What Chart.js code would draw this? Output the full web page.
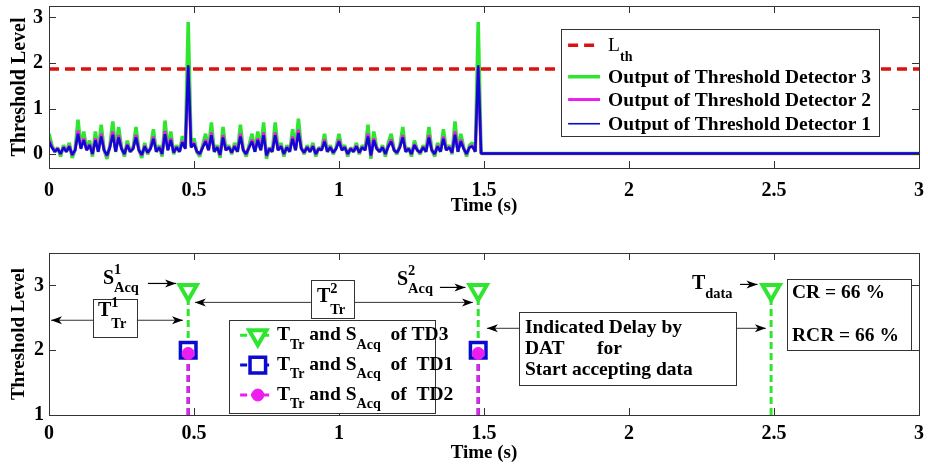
<!DOCTYPE html>
<html>
<head>
<meta charset="utf-8">
<script src="https://cdn.jsdelivr.net/npm/chart.js@4.4.1/dist/chart.umd.min.js"></script>
<style>
  html, body { margin: 0; padding: 0; background: #fff; }
  #wrap { position: relative; width: 928px; height: 471px; overflow: hidden; }
  canvas { position: absolute; left: 0; }
  #topChart { top: 0; }
  #bottomChart { top: 240px; }
</style>
</head>
<body>
<div id="wrap">
  <canvas id="topChart" width="928" height="235"></canvas>
  <canvas id="bottomChart" width="928" height="231"></canvas>
</div>
<script>
// ---- data ----
const sampleStep = 0.01;          // s between samples of the detector outputs
const endTime = 3;
const idleLevel = 0.02;           // flat output once data is accepted
const thresholdLevel = 1.87;      // L_th
const timeTicks = [0, 0.5, 1, 1.5, 2, 2.5, 3];
const topLevelTicks = [0, 1, 2, 3];
const bottomLevelTicks = [1, 2, 3];

const td3Out = [
  0.45, 0.2, 0.05, 0.15, -0.05, 0.2, 0.05, 0.25, -0.08, 0.1,
  0.76, 0.15, 0.5, 0.1, 0.3, -0.05, 0.5, 0.05, 0.65, 0.1,
  -0.1, 0.2, 0.72, 0.05, 0.6, 0.15, -0.05, 0.3, 0.05, 0.15,
  0.6, 0.1, -0.08, 0.25, 0.0, 0.15, 0.55, 0.05, 0.2, -0.05,
  0.74, 0.1, 0.5, 0.0, 0.2, 0.05, 0.4, 0.15, 2.9, 0.2,
  0.35, 0.05, -0.05, 0.2, 0.45, 0.1, 0.7, 0.05, 0.2, -0.08,
  0.6, 0.1, 0.2, 0.0, 0.25, 0.05, 0.65, 0.1, -0.05, 0.2,
  0.45, 0.05, 0.5, 0.1, 0.7, -0.1, 0.15, 0.05, 0.7, 0.1,
  0.25, -0.05, 0.2, 0.05, 0.55, 0.1, 0.78, 0.15, 0.0, 0.2,
  0.05, 0.25, -0.05, 0.15, 0.1, 0.45, 0.05, 0.2, 0.0, 0.15,
  0.45, 0.1, 0.2, -0.05, 0.15, 0.05, 0.25, 0.0, 0.2, 0.1,
  0.65, -0.1, 0.5, 0.15, 0.05, 0.2, -0.05, 0.25, 0.45, 0.1,
  0.0, 0.2, 0.6, 0.05, 0.15, -0.05, 0.3, 0.1, 0.0, 0.2,
  0.05, 0.6, 0.1, -0.05, 0.25, 0.05, 0.55, 0.1, 0.2, 0.0,
  0.72, 0.05, 0.45, 0.15, -0.05, 0.2, 0.25, 0.05, 2.9, 0.02
];
const td2Out = [
  0.32, 0.16, 0.06, 0.13, 0.0, 0.16, 0.06, 0.19, -0.02, 0.09,
  0.52, 0.13, 0.35, 0.09, 0.22, 0.0, 0.35, 0.06, 0.45, 0.09,
  -0.04, 0.16, 0.5, 0.06, 0.42, 0.13, 0.0, 0.22, 0.06, 0.13,
  0.42, 0.09, -0.02, 0.19, 0.03, 0.13, 0.39, 0.06, 0.16, 0.0,
  0.51, 0.09, 0.35, 0.03, 0.16, 0.06, 0.29, 0.13, 1.9, 0.16,
  0.25, 0.06, 0.0, 0.16, 0.32, 0.09, 0.48, 0.06, 0.16, -0.02,
  0.42, 0.09, 0.16, 0.03, 0.19, 0.06, 0.45, 0.09, 0.0, 0.16,
  0.32, 0.06, 0.35, 0.09, 0.48, -0.04, 0.13, 0.06, 0.48, 0.09,
  0.19, 0.0, 0.16, 0.06, 0.39, 0.09, 0.54, 0.13, 0.03, 0.16,
  0.06, 0.19, 0.0, 0.13, 0.09, 0.32, 0.06, 0.16, 0.03, 0.13,
  0.32, 0.09, 0.16, 0.0, 0.13, 0.06, 0.19, 0.03, 0.16, 0.09,
  0.45, -0.04, 0.35, 0.13, 0.06, 0.16, 0.0, 0.19, 0.32, 0.09,
  0.03, 0.16, 0.42, 0.06, 0.13, 0.0, 0.22, 0.09, 0.03, 0.16,
  0.06, 0.42, 0.09, 0.0, 0.19, 0.06, 0.39, 0.09, 0.16, 0.03,
  0.5, 0.06, 0.32, 0.13, 0.0, 0.16, 0.19, 0.06, 1.9, 0.02
];
const td1Out = [
  0.28, 0.15, 0.06, 0.12, 0.01, 0.15, 0.06, 0.17, -0.01, 0.09,
  0.45, 0.12, 0.31, 0.09, 0.2, 0.01, 0.31, 0.06, 0.39, 0.09,
  -0.02, 0.15, 0.43, 0.06, 0.37, 0.12, 0.01, 0.2, 0.06, 0.12,
  0.37, 0.09, -0.01, 0.17, 0.04, 0.12, 0.34, 0.06, 0.15, 0.01,
  0.44, 0.09, 0.31, 0.04, 0.15, 0.06, 0.26, 0.12, 1.95, 0.15,
  0.23, 0.06, 0.01, 0.15, 0.28, 0.09, 0.42, 0.06, 0.15, -0.01,
  0.37, 0.09, 0.15, 0.04, 0.17, 0.06, 0.39, 0.09, 0.01, 0.15,
  0.28, 0.06, 0.31, 0.09, 0.42, -0.02, 0.12, 0.06, 0.42, 0.09,
  0.17, 0.01, 0.15, 0.06, 0.34, 0.09, 0.47, 0.12, 0.04, 0.15,
  0.06, 0.17, 0.01, 0.12, 0.09, 0.28, 0.06, 0.15, 0.04, 0.12,
  0.28, 0.09, 0.15, 0.01, 0.12, 0.06, 0.17, 0.04, 0.15, 0.09,
  0.39, -0.02, 0.31, 0.12, 0.06, 0.15, 0.01, 0.17, 0.28, 0.09,
  0.04, 0.15, 0.37, 0.06, 0.12, 0.01, 0.2, 0.09, 0.04, 0.15,
  0.06, 0.37, 0.09, 0.01, 0.17, 0.06, 0.34, 0.09, 0.15, 0.04,
  0.43, 0.06, 0.28, 0.12, 0.01, 0.15, 0.17, 0.06, 1.95, 0.02
];

// acquisition instants (lower plot)
const stemBase = 1;
const td3Times = [0.48, 1.48, 2.49];
const td3Level = 2.93;
const td1Times = [0.48, 1.48];
const td1Level = 2.0;
const td2Times = [0.48, 1.48];
const td2Level = 1.95;

// ---- helpers ----
const FONT = '"Liberation Serif", "Times New Roman", serif';
const GREEN = '#2ee62e', MAGENTA = '#ee1cee', BLUE = '#0a0ad0', RED = '#dd1010';

function series(values) {
  const pts = values.map((v, i) => ({ x: +(i * sampleStep).toFixed(2), y: v }));
  pts.push({ x: endTime, y: idleLevel });
  return pts;
}
function stems(times, level) {
  const pts = [];
  times.forEach(t => { pts.push({ x: t, y: stemBase }, { x: t, y: level }, { x: t, y: null }); });
  return pts;
}
function stemRadius(times, r) {
  const out = [];
  times.forEach(() => out.push(0, r, 0));
  return out;
}

function richText(ctx, x, y, parts, size) {
  let cx = x;
  for (const [text, kind, keep, dyo] of parts) {
    const small = kind === 'sub' || kind === 'sup';
    const fs = small ? size * 0.72 : size;
    ctx.font = (kind === 'light' ? 'normal ' : 'bold ') + fs + 'px ' + FONT;
    let dy = kind === 'sub' ? size * 0.5 : kind === 'sup' ? -size * 0.4 : 0;
    if (dyo) dy = dyo;
    ctx.fillText(text, cx, y + dy);
    if (!keep) cx += ctx.measureText(text).width;
  }
  return cx;
}
function arrow(ctx, x1, y1, x2, y2) {
  const a = Math.atan2(y2 - y1, x2 - x1);
  ctx.beginPath(); ctx.moveTo(x1, y1); ctx.lineTo(x2, y2); ctx.stroke();
  ctx.beginPath();
  ctx.moveTo(x2, y2);
  ctx.lineTo(x2 - 11 * Math.cos(a) + 4 * Math.sin(a), y2 - 11 * Math.sin(a) - 4 * Math.cos(a));
  ctx.lineTo(x2 - 8 * Math.cos(a), y2 - 8 * Math.sin(a));
  ctx.lineTo(x2 - 11 * Math.cos(a) - 4 * Math.sin(a), y2 - 11 * Math.sin(a) + 4 * Math.cos(a));
  ctx.closePath(); ctx.fill();
}
function marker(ctx, style, x, y, r, color, fill, lw) {
  ctx.save();
  ctx.strokeStyle = color; ctx.fillStyle = fill; ctx.lineWidth = lw;
  ctx.beginPath();
  if (style === 'triangle') {
    ctx.moveTo(x, y + r);
    ctx.lineTo(x - r * 0.866, y - r / 2);
    ctx.lineTo(x + r * 0.866, y - r / 2);
    ctx.closePath();
  } else if (style === 'rect') {
    const s = r * Math.SQRT1_2;
    ctx.rect(x - s, y - s, 2 * s, 2 * s);
  } else {
    ctx.arc(x, y, r, 0, Math.PI * 2);
  }
  ctx.fill(); ctx.stroke();
  ctx.restore();
}

const framePlugin = {
  id: 'frame',
  afterDatasetsDraw(chart) {
    const { ctx, chartArea: a, scales: { x, y } } = chart;
    ctx.save();
    ctx.strokeStyle = '#333';
    ctx.lineWidth = 1;
    ctx.beginPath();
    x.ticks.forEach(t => {
      const p = Math.round(x.getPixelForValue(t.value)) + 0.5;
      ctx.moveTo(p, a.bottom); ctx.lineTo(p, a.bottom - 7);
      ctx.moveTo(p, a.top); ctx.lineTo(p, a.top + 7);
    });
    y.ticks.forEach(t => {
      const p = Math.round(y.getPixelForValue(t.value)) + 0.5;
      ctx.moveTo(a.left, p); ctx.lineTo(a.left + 7, p);
      ctx.moveTo(a.right, p); ctx.lineTo(a.right - 7, p);
    });
    ctx.stroke();
    ctx.strokeRect(Math.round(a.left) + 0.5, Math.round(a.top) + 0.5, Math.round(a.width), Math.round(a.height));
    ctx.restore();
  }
};

function scalesFor(yMin, yMax, yTicks, o) {
  const tickFont = { family: FONT, size: 20, weight: 'bold' };
  return {
    x: {
      type: 'linear', min: 0, max: endTime,
      afterBuildTicks: s => { s.ticks = timeTicks.map(v => ({ value: v })); },
      afterFit: s => { s.height = o.xHeight; s.paddingLeft = 0; s.paddingRight = 0; },
      ticks: { font: tickFont, color: '#000', padding: o.xPad, maxRotation: 0, autoSkip: false, callback: v => String(v) },
      grid: { display: false, drawTicks: false },
      border: { display: false },
      title: { display: true, text: 'Time (s)', color: '#000', font: { family: FONT, size: 19, weight: 'bold' }, padding: { top: 0, bottom: o.xTitlePad } }
    },
    y: {
      min: yMin, max: yMax,
      afterBuildTicks: s => { s.ticks = yTicks.map(v => ({ value: v })); },
      afterFit: s => { s.width = 49; s.paddingTop = 0; s.paddingBottom = 0; },
      ticks: { font: tickFont, color: '#000', padding: o.yPad, callback: v => String(v) },
      grid: { display: false, drawTicks: false },
      border: { display: false },
      title: { display: true, text: 'Threshold Level', color: '#000', font: { family: FONT, size: o.yTitleSize, weight: 'bold' }, padding: { top: 8, bottom: 0 } }
    }
  };
}

// ---- upper plot ----
const topLegendPlugin = {
  id: 'topLegend',
  afterDraw(chart) {
    const { ctx, scales: { x, y } } = chart;
    const bx0 = x.getPixelForValue(1.766), bx1 = x.getPixelForValue(2.862);
    const by0 = y.getPixelForValue(2.74), by1 = y.getPixelForValue(0.39);
    ctx.save();
    ctx.fillStyle = '#fff'; ctx.strokeStyle = '#333'; ctx.lineWidth = 1;
    ctx.fillRect(bx0, by0, bx1 - bx0, by1 - by0);
    ctx.strokeRect(Math.round(bx0) + 0.5, Math.round(by0) + 0.5, Math.round(bx1 - bx0), Math.round(by1 - by0));
    const sx0 = x.getPixelForValue(1.79), sx1 = x.getPixelForValue(1.90), tx = x.getPixelForValue(1.928);
    const ds = chart.data.datasets;
    const rows = [
      { d: ds[3], lvl: 2.39, parts: [['L', 'light'], ['th', 'sub', false, 11]] },
      { d: ds[2], lvl: 1.70, parts: [['Output of Threshold Detector 3', '']] },
      { d: ds[1], lvl: 1.20, parts: [['Output of Threshold Detector 2', '']] },
      { d: ds[0], lvl: 0.67, parts: [['Output of Threshold Detector 1', '']], lw: 1.6 }
    ];
    ctx.textBaseline = 'middle'; ctx.textAlign = 'left'; ctx.fillStyle = '#000';
    rows.forEach(r => {
      const py = y.getPixelForValue(r.lvl);
      ctx.save();
      ctx.strokeStyle = r.d.borderColor; ctx.lineWidth = r.lw || r.d.borderWidth;
      ctx.setLineDash(r.d.borderDash || []);
      ctx.beginPath(); ctx.moveTo(sx0, py); ctx.lineTo(sx1, py); ctx.stroke();
      ctx.restore();
      richText(ctx, tx, py + 1, r.parts, 19.5);
    });
    ctx.restore();
  }
};

new Chart(document.getElementById('topChart'), {
  type: 'line',
  data: {
    datasets: [
      { label: 'Output of Threshold Detector 1', data: series(td1Out), borderColor: BLUE, borderWidth: 2.5, pointRadius: 0, borderJoinStyle: 'bevel' },
      { label: 'Output of Threshold Detector 2', data: series(td2Out), borderColor: MAGENTA, borderWidth: 3, pointRadius: 0, borderJoinStyle: 'bevel' },
      { label: 'Output of Threshold Detector 3', data: series(td3Out), borderColor: GREEN, borderWidth: 3.5, pointRadius: 0, borderJoinStyle: 'bevel' },
      { label: 'L_th', data: [{ x: 0, y: thresholdLevel }, { x: endTime, y: thresholdLevel }], borderColor: RED, borderWidth: 3.5, borderDash: [10, 6], pointRadius: 0 }
    ]
  },
  options: {
    responsive: false, animation: false,
    layout: { padding: { top: 6, right: 9, left: 0, bottom: 0 } },
    plugins: { legend: { display: false }, tooltip: { enabled: false } },
    scales: scalesFor(-0.3, 3.25, topLevelTicks, { xHeight: 67, xPad: 11, xTitlePad: 18, yPad: 6, yTitleSize: 20 })
  },
  plugins: [framePlugin, topLegendPlugin]
});

// ---- lower plot ----
const notesPlugin = {
  id: 'notes',
  afterDraw(chart) {
    const { ctx, scales: { x, y } } = chart;
    const X = v => x.getPixelForValue(v), Y = v => y.getPixelForValue(v);
    const box = (t0, t1, l0, l1) => {
      const x0 = Math.round(X(t0)) + 0.5, x1 = Math.round(X(t1)) + 0.5;
      const y0 = Math.round(Y(l0)) + 0.5, y1 = Math.round(Y(l1)) + 0.5;
      ctx.fillStyle = '#fff'; ctx.fillRect(x0, y0, x1 - x0, y1 - y0);
      ctx.strokeStyle = '#333'; ctx.lineWidth = 1; ctx.strokeRect(x0, y0, x1 - x0, y1 - y0);
      ctx.fillStyle = '#000';
    };
    ctx.save();
    ctx.textBaseline = 'middle'; ctx.textAlign = 'left';
    ctx.fillStyle = '#000'; ctx.strokeStyle = '#000'; ctx.lineWidth = 1.2;

    // legend
    box(0.621, 1.331, 2.462, 1.031);
    const ds = chart.data.datasets;
    const legendRows = [
      { d: ds[2], lvl: 2.23, style: 'triangle', r: 10, fill: '#fff', lw: 4, tail: 'of TD3' },
      { d: ds[1], lvl: 1.77, style: 'rect', r: 11, fill: '#fff', lw: 3.5, tail: 'of  TD1' },
      { d: ds[0], lvl: 1.308, style: 'circle', r: 6, fill: MAGENTA, lw: 1, tail: 'of  TD2' }
    ];
    legendRows.forEach(r => {
      const py = Y(r.lvl);
      ctx.save();
      ctx.strokeStyle = r.d.borderColor; ctx.lineWidth = 3; ctx.setLineDash([7, 4]);
      ctx.beginPath(); ctx.moveTo(X(0.659), py); ctx.lineTo(X(0.762), py); ctx.stroke();
      ctx.restore();
      marker(ctx, r.style, X(0.72), py, r.r, r.d.borderColor, r.fill, r.lw);
      ctx.fillStyle = '#000';
      richText(ctx, X(0.786), py, [['T', ''], ['Tr', 'sub'], [' and S', ''], ['Acq', 'sub'], ['  ' + r.tail, '']], 19.5);
    });

    // acquisition labels
    ctx.strokeStyle = '#000'; ctx.fillStyle = '#000'; ctx.lineWidth = 1.2;
    richText(ctx, X(0.186), Y(3.108), [['S', ''], ['1', 'sup', true], ['Acq', 'sub']], 20);
    arrow(ctx, X(0.341), Y(3.03), X(0.438), Y(3.03));
    richText(ctx, X(1.2), Y(3.092), [['S', ''], ['2', 'sup', true], ['Acq', 'sub']], 20);
    arrow(ctx, X(1.348), Y(2.969), X(1.436), Y(2.969));
    richText(ctx, X(2.217), Y(3.03), [['T', ''], ['data', 'sub', false, 11]], 20);
    arrow(ctx, X(2.383), Y(3.015), X(2.443), Y(3.015));

    // transmission intervals
    box(0.152, 0.303, 2.785, 2.2);
    richText(ctx, X(0.169), Y(2.6), [['T', ''], ['1', 'sup', true, -8], ['Tr', 'sub', false, 13]], 20);
    arrow(ctx, X(0.152), Y(2.462), X(0.007), Y(2.462));
    arrow(ctx, X(0.303), Y(2.462), X(0.462), Y(2.462));
    box(0.903, 1.052, 3.077, 2.492);
    richText(ctx, X(0.924), Y(2.823), [['T', ''], ['2', 'sup', true, -8], ['Tr', 'sub', false, 13]], 20);
    arrow(ctx, X(0.903), Y(2.738), X(0.503), Y(2.738));
    arrow(ctx, X(1.052), Y(2.738), X(1.462), Y(2.738));

    // delay note
    box(1.621, 2.369, 2.585, 1.462);
    ctx.font = 'bold 19.5px ' + FONT;
    ctx.fillText('Indicated Delay by', X(1.641), Y(2.338));
    ctx.fillText('DAT', X(1.641), Y(2.015));
    ctx.fillText('for', X(1.89), Y(2.015));
    ctx.fillText('Start accepting data', X(1.641), Y(1.692));
    arrow(ctx, X(1.621), Y(2.338), X(1.51), Y(2.338));
    arrow(ctx, X(2.369), Y(2.338), X(2.472), Y(2.338));

    // rates
    box(2.545, 2.972, 3.092, 2.0);
    ctx.font = 'bold 19.5px ' + FONT;
    ctx.fillText('CR = 66 %', X(2.562), Y(2.877));
    ctx.fillText('RCR = 66 %', X(2.562), Y(2.215));
    ctx.restore();
  }
};

new Chart(document.getElementById('bottomChart'), {
  type: 'line',
  data: {
    datasets: [
      { label: 'TD2', data: stems(td2Times, td2Level), borderColor: MAGENTA, borderWidth: 3, borderDash: [7, 4],
        pointStyle: 'circle', pointRadius: stemRadius(td2Times, 6), pointBackgroundColor: MAGENTA, pointBorderColor: MAGENTA, pointBorderWidth: 1, spanGaps: false },
      { label: 'TD1', data: stems(td1Times, td1Level), borderColor: BLUE, borderWidth: 3, borderDash: [7, 4],
        pointStyle: 'rect', pointRadius: stemRadius(td1Times, 11), pointBackgroundColor: '#fff', pointBorderColor: BLUE, pointBorderWidth: 3.5, spanGaps: false },
      { label: 'TD3', data: stems(td3Times, td3Level), borderColor: GREEN, borderWidth: 3, borderDash: [7, 4],
        pointStyle: 'triangle', pointRotation: 180, pointRadius: stemRadius(td3Times, 10), pointBackgroundColor: '#fff', pointBorderColor: GREEN, pointBorderWidth: 4, spanGaps: false }
    ]
  },
  options: {
    responsive: false, animation: false,
    layout: { padding: { top: 13, right: 9, left: 0, bottom: 0 } },
    plugins: { legend: { display: false }, tooltip: { enabled: false } },
    scales: scalesFor(1, 3.5, bottomLevelTicks, { xHeight: 56, xPad: 7, xTitlePad: 7, yPad: 5, yTitleSize: 19 })
  },
  plugins: [framePlugin, notesPlugin]
});
</script>
</body>
</html>
